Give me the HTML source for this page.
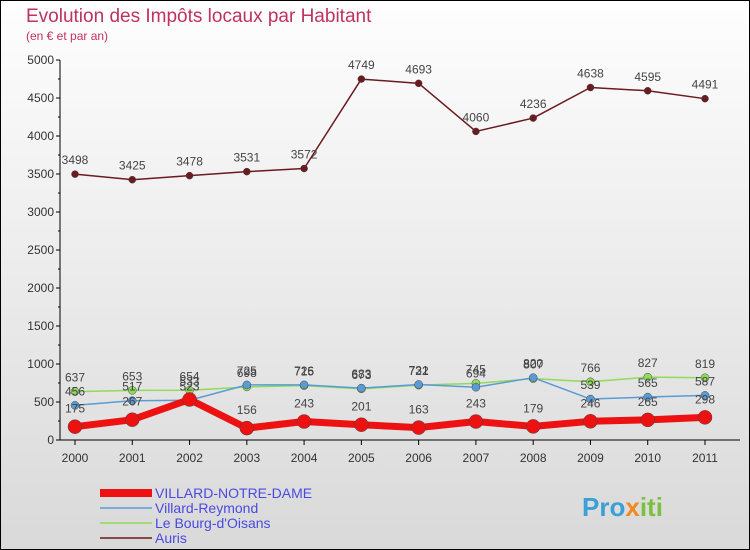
<!DOCTYPE html>
<html><head><meta charset="utf-8"><style>
body{margin:0;}
#c{width:750px;height:550px;position:relative;box-sizing:border-box;border:1px solid #000;background:linear-gradient(#fefefe,#d9d9d9);font-family:"Liberation Sans",sans-serif;overflow:hidden}
</style></head><body>
<div id="c">
<svg id="s" width="750" height="550" style="position:absolute;left:-1px;top:-1px">
<text x="26" y="22" font-size="19" fill="#c0325e" font-weight="300">Evolution des Impôts locaux par Habitant</text>
<text x="26" y="40" font-size="12" fill="#c0325e">(en € et par an)</text>
<g id="axes"></g><g id="series"></g><g id="legend"></g>
<text x="582" y="516" font-size="26" font-weight="bold" fill="#3aa0d8">Pro<tspan fill="#f08a1c">x</tspan><tspan fill="#7bc043">iti</tspan></text>
</svg>
</div>
<script>
const years=["2000","2001","2002","2003","2004","2005","2006","2007","2008","2009","2010","2011"];
const yTicks=[0,500,1000,1500,2000,2500,3000,3500,4000,4500,5000];
const vnd=[175,267,533,156,243,201,163,243,179,246,265,298];
const vr=[456,517,523,725,726,683,731,694,820,539,565,587];
const bo=[637,653,654,698,715,673,722,745,807,766,827,819];
const au=[3498,3425,3478,3531,3572,4749,4693,4060,4236,4638,4595,4491];
const NS="http://www.w3.org/2000/svg";
function X(i){return 75+i*(630/11);}
function Y(v){return 440-v*0.076;}
function mk(p,t,a){const e=document.createElementNS(NS,t);for(const k in a)e.setAttribute(k,a[k]);p.appendChild(e);return e;}
const ax=document.getElementById('axes');
let yl=mk(ax,'line',{x1:60,y1:60,x2:60,y2:440,stroke:'#000'});


let xl=mk(ax,'line',{x1:60,y1:440,x2:740,y2:440,stroke:'#000'});


yTicks.forEach(v=>{
 mk(ax,'line',{x1:56,y1:Y(v),x2:60,y2:Y(v),stroke:'#000'});
 if(v<5000)mk(ax,'line',{x1:58,y1:Y(v+250),x2:60,y2:Y(v+250),stroke:'#000'});
 const t=mk(ax,'text',{x:54,y:Y(v)+4,'font-size':12,'text-anchor':'end',fill:'#333'});
 t.textContent=v;
 
 
});
years.forEach((y,i)=>{
 mk(ax,'line',{x1:X(i),y1:440,x2:X(i),y2:445,stroke:'#000'});
 const t=mk(ax,'text',{x:X(i),y:462,'font-size':12,'text-anchor':'middle',fill:'#333'});
 t.textContent=y;
 
 
});
const sg=document.getElementById('series');
const series=[
 {d:au,c:'#6b1a1f',w:1.5,r:3.5,n:'auris',lab:'Auris',lw:1.5},
 {d:bo,c:'#8fdc5a',w:1.5,r:4,n:'le-bourg-d-oisans',lab:"Le Bourg-d'Oisans",lw:1.5},
 {d:vr,c:'#5b9bd5',w:1.5,r:4,n:'villard-reymond',lab:'Villard-Reymond',lw:1.5},
 {d:vnd,c:'#ee1111',w:7,r:7,n:'villard-notre-dame',lab:'VILLARD-NOTRE-DAME',lw:8}];
series.forEach(s=>{
 const g=mk(sg,'g',{});
 
 
 const pl=mk(g,'polyline',{points:s.d.map((v,i)=>X(i)+','+Y(v)).join(' '),fill:'none',stroke:s.c,'stroke-width':s.w,'stroke-linejoin':'round'});
 
 
 s.d.forEach((v,i)=>{
  const p=mk(g,'circle',{cx:X(i),cy:Y(v),r:s.r,fill:s.c,stroke:'#444','stroke-width':0.5});
  
  
  const off=s.n==='villard-notre-dame'?14:10;
  const t=mk(g,'text',{x:X(i),y:Y(v)-off,'font-size':12,'text-anchor':'middle',fill:'#444'});
  t.textContent=v;
  
  
 });
});
const lg=document.getElementById('legend');
[series[3],series[2],series[1],series[0]].forEach((s,k)=>{
 const y=493+k*15;
 const l=mk(lg,'line',{x1:100,y1:y,x2:152,y2:y,stroke:s.c,'stroke-width':s.lw});
 
 
 const t=mk(lg,'text',{x:155,y:y+5,'font-size':14,fill:'#4a4ae0'});
 t.textContent=s.lab;
 
 
});
</script>
</body></html>
